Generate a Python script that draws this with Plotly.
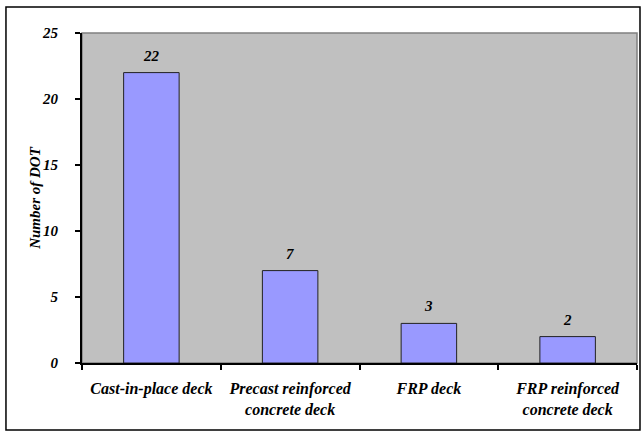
import plotly.graph_objects as go

categories = ["Cast-in-place deck", "Precast reinforced<br>concrete deck",
              "FRP deck", "FRP reinforced<br>concrete deck"]
counts = [22, 7, 3, 2]
y_ticks = [0, 5, 10, 15, 20, 25]
y_title = "Number of DOT"

serif = "Liberation Serif, Times New Roman, serif"


def bi(size):
    return dict(family=serif, size=size, color="black",
                weight="bold", style="italic")


fig = go.Figure(
    go.Bar(
        x=categories,
        y=counts,
        width=0.4,
        marker=dict(color="#9999FF", line=dict(color="#222222", width=1)),
        hoverinfo="x+y",
    )
)

# value labels above each bar
for cat, val in zip(categories, counts):
    fig.add_annotation(x=cat, y=val, text=str(val), showarrow=False,
                       yanchor="bottom", yshift=7, font=bi(15))

# vertical axis title
fig.add_annotation(xref="paper", yref="paper", x=-0.085, y=0.5,
                   xanchor="center", yanchor="middle", textangle=-90,
                   text=y_title, showarrow=False, font=bi(15))

fig.update_layout(
    width=642,
    height=432,
    margin=dict(l=82, r=5, t=33, b=69),
    paper_bgcolor="white",
    plot_bgcolor="#C0C0C0",
    showlegend=False,
    font=bi(15),
    shapes=[
        # plot-area frame (top/right edges visible in gray)
        dict(type="rect", xref="paper", yref="paper", x0=0, x1=1, y0=0, y1=1,
             line=dict(color="#808080", width=1.5), layer="below"),
        # outer chart border
        dict(type="rect", xref="paper", yref="paper",
             x0=-0.137, x1=1.0054, y0=-0.203, y1=1.0788,
             line=dict(color="black", width=1.5), layer="below"),
    ],
)

fig.update_xaxes(
    type="category",
    showline=True, linecolor="black", linewidth=2,
    ticks="outside", tickson="boundaries", ticklen=5, tickwidth=2,
    tickcolor="black", showgrid=False,
    tickfont=bi(16),
    ticklabelstandoff=10,
)
fig.update_yaxes(
    range=[0, 25], tickvals=y_ticks,
    showline=True, linecolor="black", linewidth=2,
    ticks="outside", ticklen=5, tickwidth=2, tickcolor="black",
    showgrid=False, zeroline=False,
    tickfont=bi(15),
    ticklabelstandoff=14,
)

fig.write_html("out.html")
